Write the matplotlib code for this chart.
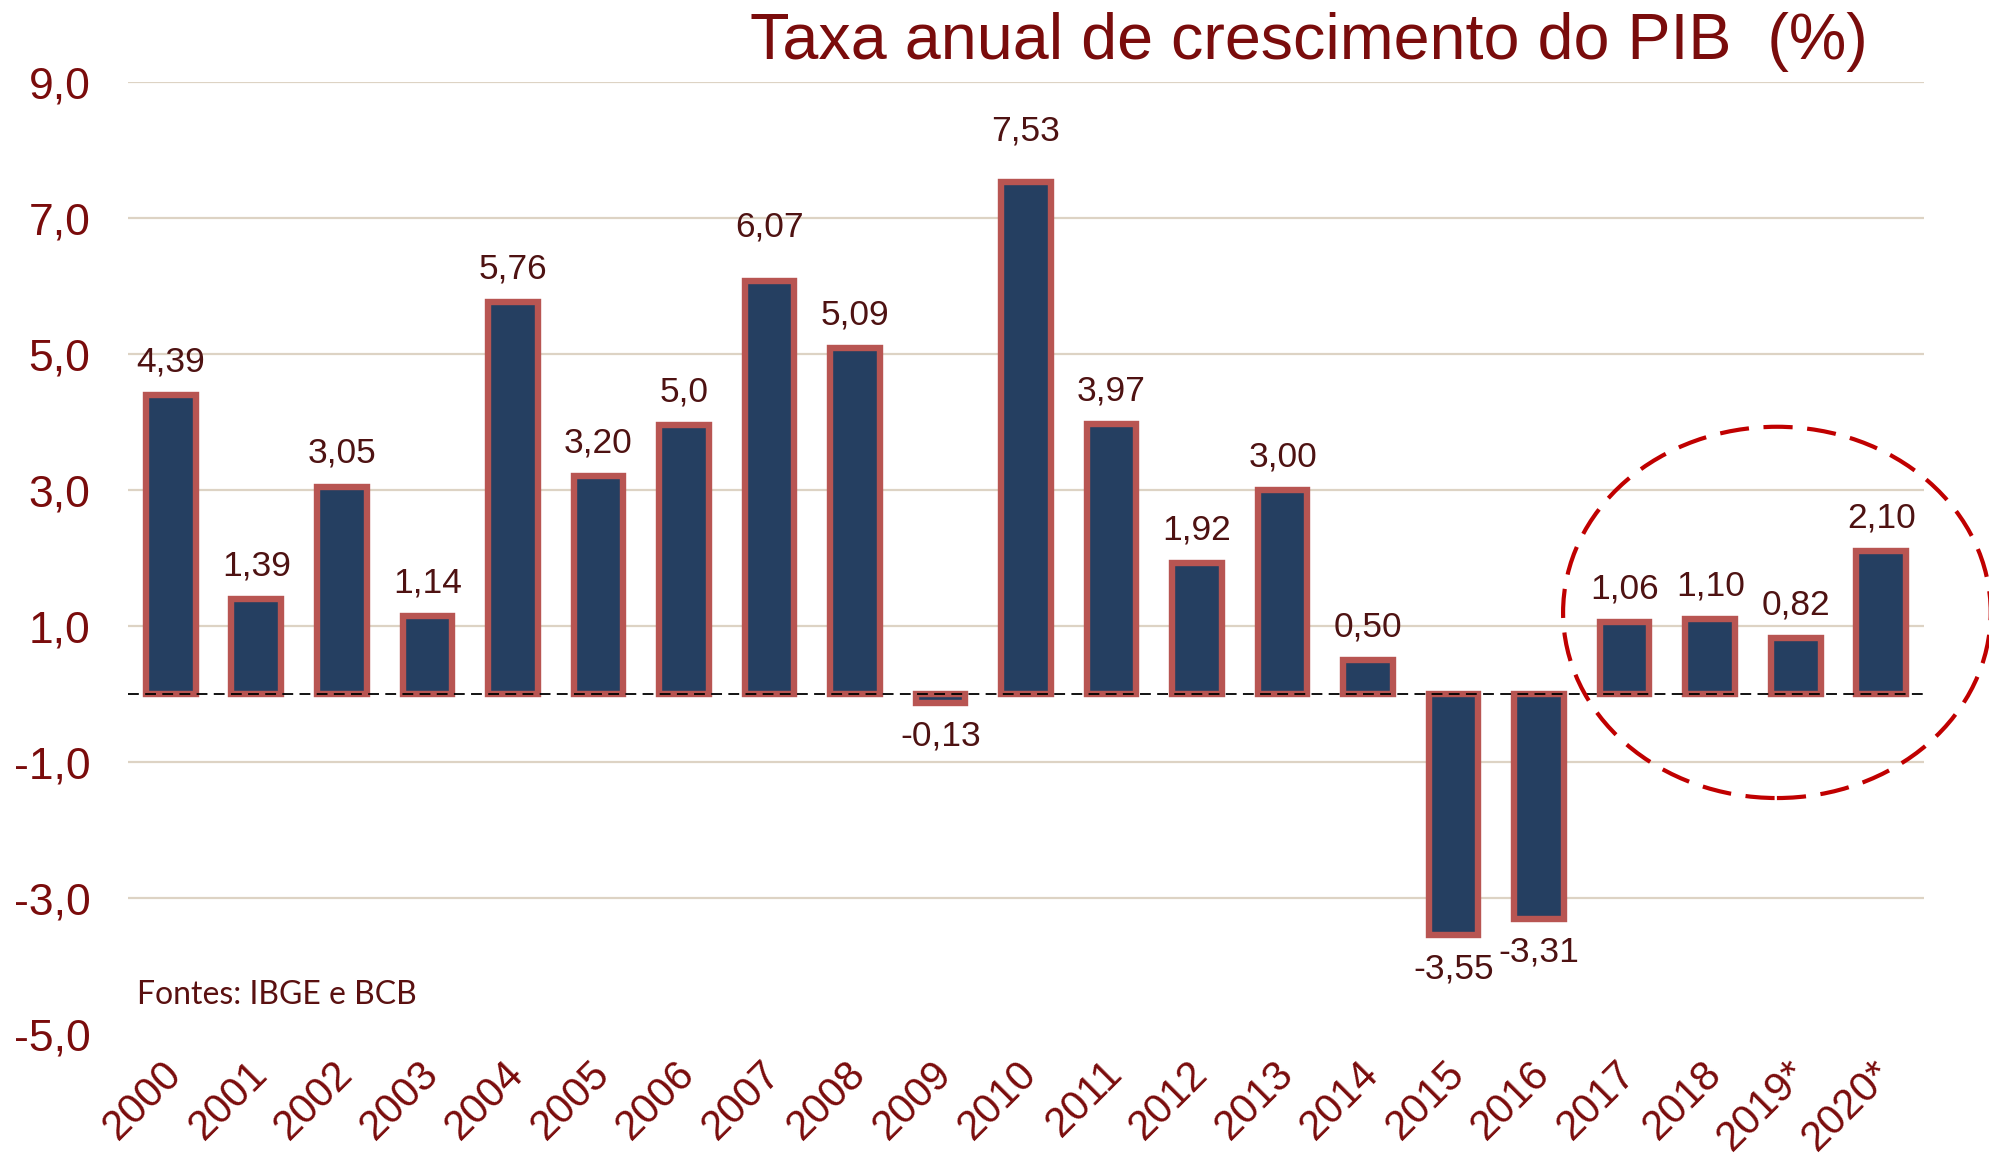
import matplotlib.pyplot as plt
import matplotlib.transforms as mtransforms
from matplotlib.patches import Ellipse

# data
years = ["2000", "2001", "2002", "2003", "2004", "2005", "2006", "2007", "2008", "2009", "2010",
         "2011", "2012", "2013", "2014", "2015", "2016", "2017", "2018", "2019*", "2020*"]
growth = [4.39, 1.39, 3.05, 1.14, 5.76, 3.20, 3.96, 6.07, 5.09, -0.13, 7.53,
          3.97, 1.92, 3.00, 0.50, -3.55, -3.31, 1.06, 1.10, 0.82, 2.10]
# label text as printed on the original (2006 shows "5,0")
value_labels = ["4,39", "1,39", "3,05", "1,14", "5,76", "3,20", "5,0", "6,07", "5,09", "-0,13", "7,53",
                "3,97", "1,92", "3,00", "0,50", "-3,55", "-3,31", "1,06", "1,10", "0,82", "2,10"]
y_ticks = [9, 7, 5, 3, 1, -1, -3, -5]
y_tick_labels = ["9,0", "7,0", "5,0", "3,0", "1,0", "-1,0", "-3,0", "-5,0"]
highlight = (17, 20)  # 2017 .. 2020*

TITLE = "Taxa anual de crescimento do PIB  (%)"
SOURCE = "Fontes: IBGE e BCB"

DARK_RED = "#7a0c0c"
LABEL_RED = "#4e1212"
BAR_FILL = "#253f61"
BAR_EDGE = "#b85552"
GRID = "#ddd3c4"

plt.rcParams["font.family"] = ["Liberation Sans", "DejaVu Sans"]


def main():
    fig = plt.figure(figsize=(19.9, 11.66), dpi=100)
    ax = fig.add_axes([128 / 1990, 1 - 1034 / 1166, (1924 - 128) / 1990, (1034 - 82) / 1166])

    x = list(range(len(years)))
    ax.bar(x, growth, width=0.58, color=BAR_FILL, edgecolor=BAR_EDGE, linewidth=4.6, zorder=3)

    ax.set_xlim(-0.5, len(years) - 0.5)
    ax.set_ylim(-5, 9)

    # grid (no line at -5)
    for yv in y_ticks[:-1]:
        ax.axhline(yv, color=GRID, linewidth=1.6, zorder=1)
    ax.axhline(0, color="black", linewidth=1.3, linestyle=(0, (6, 3.5)), zorder=5)

    for s in ax.spines.values():
        s.set_visible(False)

    ax.set_yticks(y_ticks, y_tick_labels)
    ax.tick_params(axis="y", length=0, pad=27, labelsize=32, labelcolor=DARK_RED)
    ax.set_xticks(x, years, rotation=45, ha="right", va="center", rotation_mode="anchor")
    ax.tick_params(axis="x", length=0, pad=24, labelsize=30, labelcolor=DARK_RED)
    shift = mtransforms.ScaledTranslation(0.05, 0, fig.dpi_scale_trans)
    for lab in ax.get_xticklabels():
        lab.set_transform(lab.get_transform() + shift)

    # value labels
    nudge = {7: 15, 10: 13}
    for i, (v, txt) in enumerate(zip(growth, value_labels)):
        if v >= 0:
            ax.annotate(txt, (i, v), xytext=(0, 17 + nudge.get(i, 0)), textcoords="offset points",
                        ha="center", va="baseline", fontsize=25.5, color=LABEL_RED, zorder=6)
        else:
            ax.annotate(txt, (i, v), xytext=(0, -12), textcoords="offset points",
                        ha="center", va="top", fontsize=25.5, color=LABEL_RED, zorder=6)

    # dashed circle around the last years
    cx = (highlight[0] + highlight[1]) / 2 + 0.28
    ell = Ellipse((cx, 1.2), width=5.0, height=5.46, fill=False, edgecolor="#c00000",
                  linewidth=3, linestyle=(0, (7, 3.5)), clip_on=False, zorder=7)
    ax.add_patch(ell)

    fig.text(750 / 1990, 1 - 42 / 1166, TITLE, fontsize=46.5, color=DARK_RED, ha="left", va="center")
    fig.text(137 / 1990, 1 - 995 / 1166, SOURCE, fontsize=23, color="#5a1010", ha="left", va="center",
             family=["Lato", "DejaVu Sans"])

    fig.savefig("out.png", dpi=100, facecolor="white")


if __name__ == "__main__":
    main()
